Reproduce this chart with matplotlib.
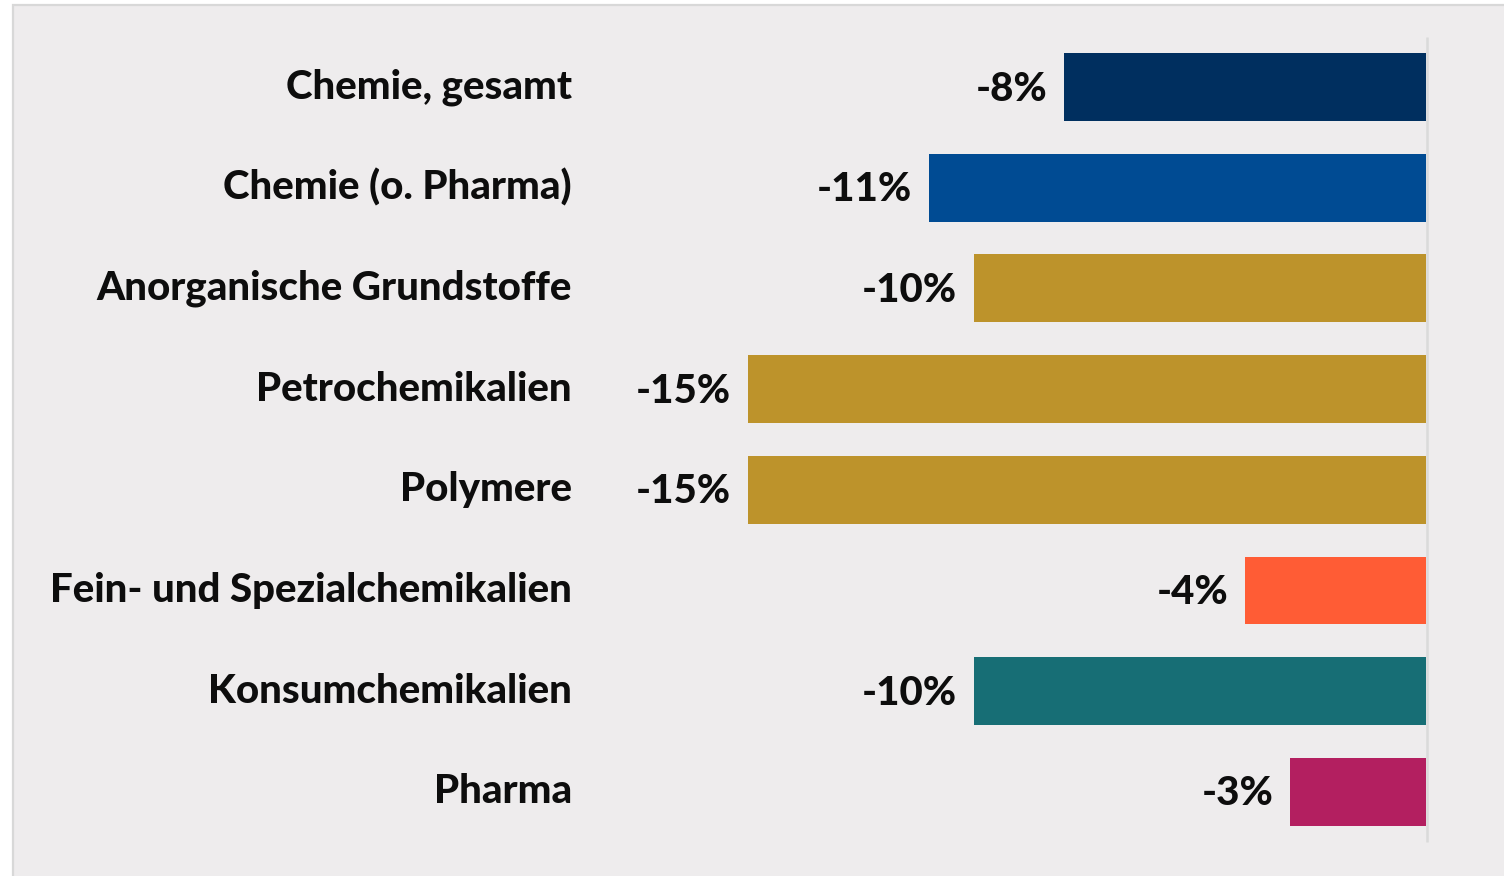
import matplotlib
matplotlib.use("Agg")
import matplotlib.pyplot as plt
from matplotlib.patches import Rectangle

categories = ["Chemie, gesamt", "Chemie (o. Pharma)", "Anorganische Grundstoffe",
              "Petrochemikalien", "Polymere", "Fein- und Spezialchemikalien",
              "Konsumchemikalien", "Pharma"]
values = [-8, -11, -10, -15, -15, -4, -10, -3]
labels = ["-8%", "-11%", "-10%", "-15%", "-15%", "-4%", "-10%", "-3%"]
colors = ["#002f5f", "#004b93", "#bd932b", "#bd932b", "#bd932b", "#ff5c35", "#176e75", "#b31f60"]

BG = "#eeeced"
W, H = 1504, 876
fig = plt.figure(figsize=(W / 100, H / 100), dpi=100)
fig.patch.set_facecolor("white")
# panel with light border on top/left
fig.patches.append(Rectangle((13 / W, -0.1), 1.2, (H - 5) / H + 0.1, transform=fig.transFigure,
                             facecolor=BG, edgecolor="#d8d8d8", linewidth=1.6, zorder=-1))

ax = fig.add_axes([0, 0, 1, 1])
ax.set_facecolor("none")
ax.set_zorder(1)
ppu = (1425.5 - 748) / 15.0
ax.set_xlim(-1425.5 / ppu, (W - 1425.5) / ppu)
row = 100.7
ax.set_ylim((H - 87) / row, -87 / row)
ax.axis("off")

fam = ["Lato", "DejaVu Sans"]
ypos = list(range(len(categories)))
ax.barh(ypos, values, height=0.675, color=colors, zorder=3)
ax.vlines(1.3 / ppu, -0.5, 7.5, color="#dadada", linewidth=1.8, zorder=2)

for y, v, lab, cat in zip(ypos, values, labels, categories):
    ax.annotate(lab, (v, y), xytext=(-12, -1.5), textcoords="offset points",
                ha="right", va="center", fontsize=29, fontweight="black", family=fam, color="#0d0d0d")
    ax.text(572 / W, y, cat, transform=ax.get_yaxis_transform(), ha="right", va="center",
            fontsize=29, fontweight="black", family=fam, color="#0d0d0d")

fig.savefig("out.png", dpi=100, facecolor=fig.get_facecolor())
